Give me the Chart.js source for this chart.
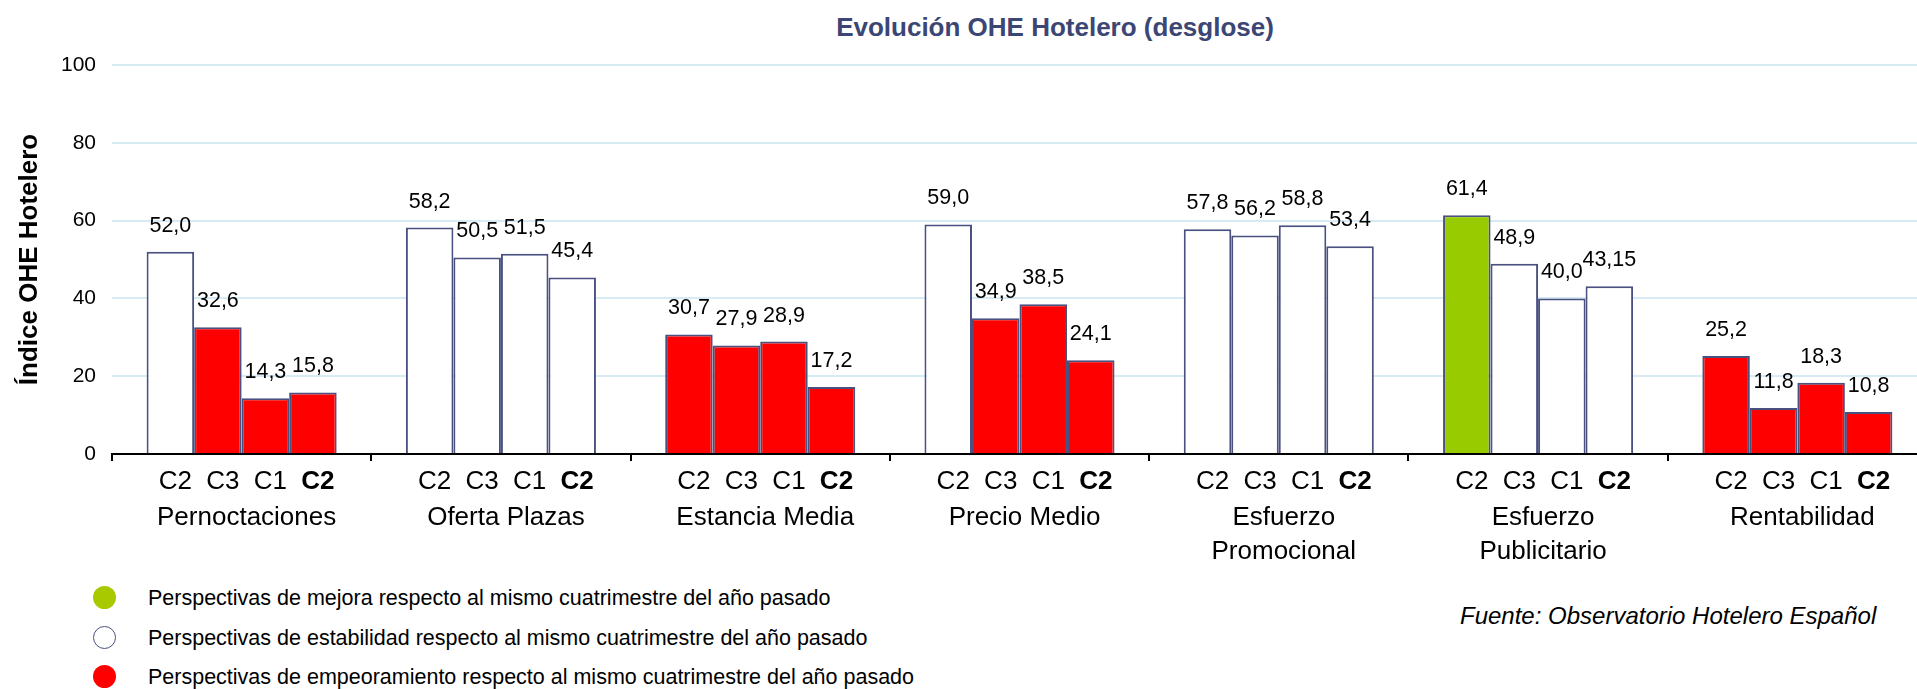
<!DOCTYPE html>
<html lang="es">
<head>
<meta charset="utf-8">
<title>Evolución OHE Hotelero (desglose)</title>
<script src="https://cdn.jsdelivr.net/npm/chart.js@4.4.1/dist/chart.umd.min.js"></script>
<style>
    html, body { margin: 0; padding: 0; background: #fff; overflow: hidden; }
    body { width: 1917px; height: 689px; position: relative; font-family: "Liberation Sans", Arial, sans-serif; color: #000; }
    #Grafico { position: absolute; left: 0; top: 0; width: 1927px; height: 580px; }
    .Titulo { position: absolute; left: 1055px; top: 12px; transform: translateX(-50%); font-weight: bold; font-size: 26px; line-height: 30px; color: #3c4674; white-space: nowrap; }
    .Leyenda { position: absolute; left: 93px; height: 30px; line-height: 30px; font-size: 21.5px; white-space: nowrap; }
    .Leyenda span { display: inline-block; width: 23px; height: 23px; border-radius: 50%; box-sizing: border-box; vertical-align: middle; margin-right: 32px; position: relative; top: -2px; }
    .Fuente { position: absolute; left: 1460px; top: 601px; font-style: italic; font-size: 24px; line-height: 30px; white-space: nowrap; }
</style>
</head>
<body>
<div class="Titulo">Evolución OHE Hotelero (desglose)</div>
<div id="Grafico"><canvas id="oheChart"></canvas></div>
<div class="Leyenda" style="top:583px"><span style="background:#a8c800"></span>Perspectivas de mejora respecto al mismo cuatrimestre del año pasado</div>
<div class="Leyenda" style="top:623px"><span style="background:#fff;border:1.5px solid #4a5080"></span>Perspectivas de estabilidad respecto al mismo cuatrimestre del año pasado</div>
<div class="Leyenda" style="top:662px"><span style="background:#ff0000"></span>Perspectivas de empeoramiento respecto al mismo cuatrimestre del año pasado</div>
<div class="Fuente">Fuente: Observatorio Hotelero Español</div>

<script>
    const categorias = [
        'Pernoctaciones', 'Oferta Plazas', 'Estancia Media', 'Precio Medio',
        ['Esfuerzo', 'Promocional'], ['Esfuerzo', 'Publicitario'], 'Rentabilidad'
    ];
    const cuatrimestres = ['C2', 'C3', 'C1', 'C2'];

    const valoresC2Previo = [52.0, 58.2, 30.7, 59.0, 57.8, 61.4, 25.2];
    const valoresC3 = [32.6, 50.5, 27.9, 34.9, 56.2, 48.9, 11.8];
    const valoresC1 = [14.3, 51.5, 28.9, 38.5, 58.8, 40.0, 18.3];
    const valoresC2Actual = [15.8, 45.4, 17.2, 24.1, 53.4, 43.15, 10.8];

    // perspectiva de cada barra: M = mejora, E = estabilidad, P = empeoramiento
    const perspC2Previo = ['E', 'E', 'P', 'E', 'E', 'M', 'P'];
    const perspC3 = ['P', 'E', 'P', 'P', 'E', 'E', 'P'];
    const perspC1 = ['P', 'E', 'P', 'P', 'E', 'E', 'P'];
    const perspC2Actual = ['P', 'E', 'P', 'P', 'E', 'E', 'P'];

    const coloresPersp = { M: '#99cc00', E: '#ffffff', P: '#ff0000' };
    const borde = '#4a5080';
    const fuente = '"Liberation Sans", Arial, sans-serif';

    const formato = v => {
        const unDecimal = Math.abs(v * 10 - Math.round(v * 10)) < 1e-9;
        return (unDecimal ? v.toFixed(1) : String(v)).replace('.', ',');
    };

    const series = [valoresC2Previo, valoresC3, valoresC1, valoresC2Actual];
    const perspectivas = [perspC2Previo, perspC3, perspC1, perspC2Actual];

    const etiquetasPlugin = {
        id: 'etiquetas',
        afterDatasetsDraw(chart) {
            const ctx = chart.ctx;
            const base = chart.scales.x.top;
            ctx.save();
            ctx.textAlign = 'center';
            ctx.textBaseline = 'middle';
            ctx.fillStyle = '#000';
            chart.data.datasets.forEach((ds, i) => {
                chart.getDatasetMeta(i).data.forEach((bar, j) => {
                    ctx.font = '21.5px ' + fuente;
                    ctx.fillText(formato(ds.data[j]), bar.x, bar.y - 26);
                    ctx.font = (i === 3 ? 'bold ' : '') + '26px ' + fuente;
                    ctx.fillText(ds.label, bar.x + 5, base + 28);
                });
            });
            ctx.restore();
        }
    };

    Chart.defaults.font.family = fuente;
    Chart.defaults.color = '#000';

    new Chart(document.getElementById('oheChart').getContext('2d'), {
        type: 'bar',
        data: {
            labels: categorias,
            datasets: series.map((valores, i) => ({
                label: cuatrimestres[i],
                data: valores,
                backgroundColor: perspectivas[i].map(p => coloresPersp[p]),
                borderColor: borde,
                borderWidth: 2,
                categoryPercentage: 0.733,
                barPercentage: 1
            }))
        },
        options: {
            responsive: true,
            maintainAspectRatio: false,
            animation: false,
            layout: { padding: { top: 65, left: 0, right: 0, bottom: 0 } },
            plugins: {
                legend: { display: false },
                title: { display: false },
                tooltip: { enabled: false }
            },
            scales: {
                x: {
                    grid: { offset: true, drawOnChartArea: false, drawTicks: true, tickLength: 7, color: '#000', lineWidth: 2 },
                    border: { display: true, color: '#000', width: 2 },
                    ticks: { font: { size: 26, lineHeight: 1.3 }, color: '#000', padding: 40, labelOffset: 5, autoSkip: false, maxRotation: 0 },
                    afterFit: scale => { scale.height = 126; }
                },
                y: {
                    min: 0,
                    max: 100,
                    ticks: { stepSize: 20, font: { size: 21 }, color: '#000', padding: 16 },
                    grid: { color: '#d6ebf3', lineWidth: 2, drawTicks: false },
                    border: { display: false },
                    title: {
                        display: true,
                        text: 'Índice OHE Hotelero',
                        font: { size: 26, weight: 'bold' },
                        color: '#000',
                        padding: { top: 14, bottom: 0 }
                    },
                    afterFit: scale => { scale.width = 112; }
                }
            }
        },
        plugins: [etiquetasPlugin]
    });
</script>
</body>
</html>
